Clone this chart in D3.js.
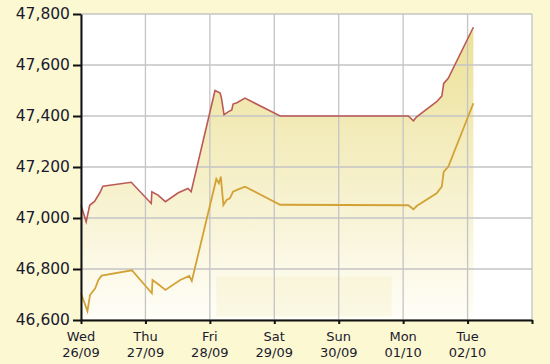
<!DOCTYPE html>
<html>
<head>
<meta charset="utf-8">
<script src="https://cdn.jsdelivr.net/npm/d3@7"></script>
<style>
  body { margin: 0; background: #fcf8d2; }
  svg { display: block; }
  .axis text { font-family: "DejaVu Sans", Verdana, sans-serif; fill: #1a1a2e; }
</style>
</head>
<body>
<svg id="chart" width="550" height="364"></svg>
<script>
// day labels on the x axis
var dayNames = ["Wed", "Thu", "Fri", "Sat", "Sun", "Mon", "Tue"];
var dayDates = ["26/09", "27/09", "28/09", "29/09", "30/09", "01/10", "02/10"];
var yTicks = [46600, 46800, 47000, 47200, 47400, 47600, 47800];

// position in days since Wed 26/09
var redDays = [0, 0.08, 0.135, 0.21, 0.29, 0.34, 0.78, 1.09, 1.10, 1.195, 1.31, 1.51, 1.66, 1.71,
  2.08, 2.16, 2.18, 2.22, 2.29, 2.34, 2.36, 2.42, 2.545, 3.09, 5.08, 5.16, 5.21, 5.52, 5.60, 5.63, 5.70, 6.09];
var redValues = [47050, 46985, 47050, 47065, 47098, 47125, 47140, 47057, 47103, 47090, 47064, 47099, 47116, 47103,
  47500, 47490, 47470, 47405, 47417, 47424, 47447, 47452, 47470, 47400, 47400, 47381, 47397, 47456, 47478, 47528, 47548, 47748];

var goldDays = [0, 0.10, 0.14, 0.22, 0.27, 0.32, 0.79, 1.10, 1.11, 1.20, 1.31, 1.54, 1.68, 1.72,
  2.10, 2.14, 2.17, 2.21, 2.26, 2.31, 2.36, 2.42, 2.545, 3.09, 5.08, 5.16, 5.21, 5.52, 5.60, 5.63, 5.70, 6.09];
var goldValues = [46705, 46635, 46698, 46724, 46757, 46774, 46795, 46705, 46757, 46740, 46718, 46757, 46773, 46753,
  47153, 47136, 47162, 47051, 47071, 47077, 47103, 47110, 47123, 47052, 47050, 47034, 47047, 47097, 47123, 47182, 47201, 47450];

var margin = {top: 14, right: 18, bottom: 44, left: 81};
var width = 550 - margin.left - margin.right,
    height = 364 - margin.top - margin.bottom;

var svg = d3.select("#chart");

var x = d3.scaleLinear().domain([0, 7]).range([0, width]);
var y = d3.scaleLinear().domain([46600, 47800]).range([height, 0]);

var defs = svg.append("defs");
var grad = defs.append("linearGradient")
  .attr("id", "fillGrad")
  .attr("gradientUnits", "userSpaceOnUse")
  .attr("x1", 0).attr("y1", 0).attr("x2", 0).attr("y2", height);
grad.append("stop").attr("offset", "0%").attr("stop-color", "#ebdf92");
grad.append("stop").attr("offset", "100%").attr("stop-color", "#fffef8");

var g = svg.append("g")
  .attr("transform", "translate(" + margin.left + "," + margin.top + ")");

// white plot area
g.append("rect")
  .attr("width", width).attr("height", height)
  .attr("fill", "#fff");

var red = redDays.map(function(d, i) { return [d, redValues[i]]; });
var gold = goldDays.map(function(d, i) { return [d, goldValues[i]]; });

// area under the upper line
g.append("path")
  .datum(red)
  .attr("fill", "url(#fillGrad)")
  .attr("d", d3.area()
    .x(function(d) { return x(d[0]); })
    .y0(height)
    .y1(function(d) { return y(d[1]); }));

// faint watermark box
g.append("rect")
  .attr("x", x(2.1)).attr("y", y(46770))
  .attr("width", x(4.82) - x(2.1)).attr("height", y(46615) - y(46770))
  .attr("fill", "#f3edc0").attr("opacity", 0.35);

// grid
g.append("g").selectAll("line.h")
  .data(yTicks)
  .enter().append("line")
  .attr("x1", 0).attr("x2", width)
  .attr("y1", function(d) { return y(d); })
  .attr("y2", function(d) { return y(d); })
  .attr("stroke", "#c4c4c4").attr("stroke-width", 1.3);

g.append("g").selectAll("line.v")
  .data(d3.range(0, 8))
  .enter().append("line")
  .attr("y1", 0).attr("y2", height)
  .attr("x1", function(d) { return x(d); })
  .attr("x2", function(d) { return x(d); })
  .attr("stroke", "#c4c4c4").attr("stroke-width", 1.3);

var line = d3.line()
  .x(function(d) { return x(d[0]); })
  .y(function(d) { return y(d[1]); });

g.append("path").datum(red)
  .attr("fill", "none").attr("stroke", "#bb5a55").attr("stroke-width", 1.6)
  .attr("d", line);

g.append("path").datum(gold)
  .attr("fill", "none").attr("stroke", "#d3a237").attr("stroke-width", 1.8)
  .attr("d", line);

// y axis
var yAxis = g.append("g").attr("class", "axis")
  .call(d3.axisLeft(y).tickValues(yTicks).tickSize(8).tickSizeOuter(0).tickPadding(3)
    .tickFormat(d3.format(",")));
yAxis.selectAll("text").style("font-size", "15.5px");
yAxis.selectAll("line, path").attr("stroke", "#111").attr("stroke-width", 2);

// x axis
var xAxis = g.append("g").attr("class", "axis")
  .attr("transform", "translate(0," + height + ")")
  .call(d3.axisBottom(x).tickValues(d3.range(0, 8)).tickSize(4).tickSizeOuter(0)
    .tickFormat(""));
xAxis.selectAll("line, path").attr("stroke", "#111").attr("stroke-width", 2);

var labels = xAxis.selectAll("text.day")
  .data(dayNames)
  .enter().append("text")
  .attr("class", "day")
  .attr("text-anchor", "middle")
  .attr("x", function(d, i) { return x(i); })
  .style("font-size", "13px");
labels.append("tspan").attr("x", function(d, i) { return x(i); }).attr("y", 21).text(function(d) { return d; });
labels.append("tspan").attr("x", function(d, i) { return x(i); }).attr("y", 37).text(function(d, i) { return dayDates[i]; });
</script>
</body>
</html>
